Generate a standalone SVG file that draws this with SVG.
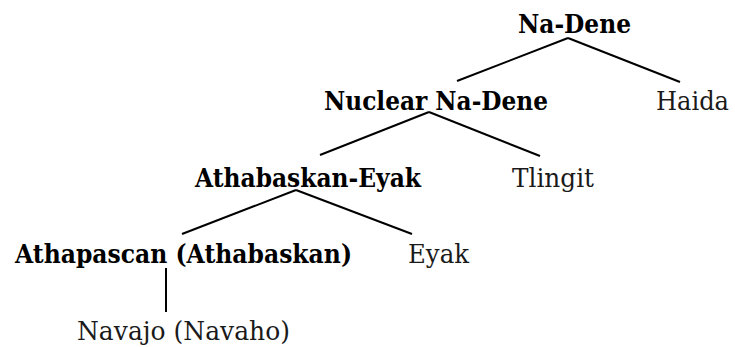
<svg xmlns="http://www.w3.org/2000/svg" width="735" height="347" viewBox="0 0 735 347">
<style>
text{font-family:"DejaVu Serif","Liberation Serif",serif;font-size:26px}
.b{font-weight:bold;fill:#000}
.r{fill:#1a1a1a}
.c line{stroke:#000;stroke-width:2;stroke-linecap:butt}
</style>
<rect width="735" height="347" fill="#fff"/>
<g class="c" id="connectors">
<line x1="568" y1="38" x2="457" y2="81"/>
<line x1="568" y1="38" x2="680" y2="82"/>
<line x1="429" y1="112" x2="320" y2="155"/>
<line x1="429" y1="112" x2="540" y2="156"/>
<line x1="296" y1="190" x2="182" y2="234"/>
<line x1="296" y1="190" x2="412" y2="234"/>
<line x1="166" y1="268" x2="166" y2="312"/>
</g>
<g id="na-dene"><text class="b" x="518" y="33" textLength="113" lengthAdjust="spacingAndGlyphs">Na-Dene</text></g>
<g id="nuclear"><text class="b" x="324" y="110" textLength="224" lengthAdjust="spacingAndGlyphs">Nuclear Na-Dene</text></g>
<g id="haida"><text class="r" x="656" y="110" textLength="73" lengthAdjust="spacingAndGlyphs">Haida</text></g>
<g id="athabaskan-eyak"><text class="b" x="195" y="187" textLength="226" lengthAdjust="spacingAndGlyphs">Athabaskan-Eyak</text></g>
<g id="tlingit"><text class="r" x="512" y="187" textLength="82" lengthAdjust="spacingAndGlyphs">Tlingit</text></g>
<g id="athapascan"><text class="b" x="15" y="263" textLength="337" lengthAdjust="spacingAndGlyphs">Athapascan (Athabaskan)</text></g>
<g id="eyak"><text class="r" x="408" y="263" textLength="61" lengthAdjust="spacingAndGlyphs">Eyak</text></g>
<g id="navajo"><text class="r" x="77" y="340" textLength="213" lengthAdjust="spacingAndGlyphs">Navajo (Navaho)</text></g>
</svg>
